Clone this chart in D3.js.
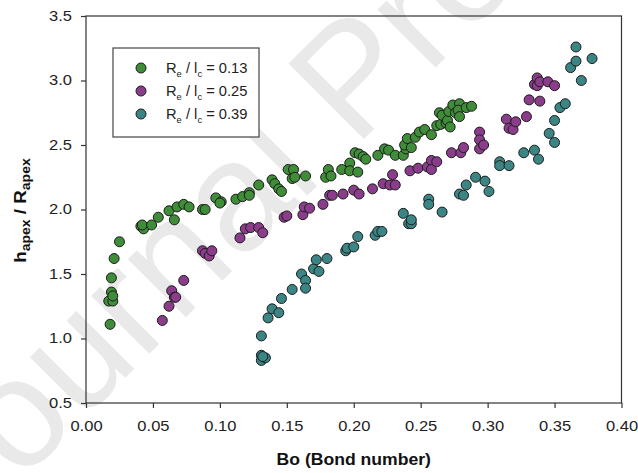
<!DOCTYPE html>
<html>
<head>
<meta charset="utf-8">
<script src="https://cdn.jsdelivr.net/npm/d3@7"></script>
<style>
  body { margin: 0; background: #fff; }
  svg { display: block; font-family: "Liberation Sans", Arial, sans-serif; }
</style>
</head>
<body>
<svg id="chart" width="638" height="473"></svg>
<script>
"use strict";

//data (Bo, h_apex / R_apex)

const ratio013 = [
  [0.018, 1.11], [0.017, 1.29], [0.020, 1.29], [0.019, 1.36], [0.020, 1.33], [0.019, 1.47],
  [0.021, 1.62], [0.025, 1.75], [0.041, 1.87], [0.043, 1.85], [0.042, 1.88], [0.049, 1.88],
  [0.054, 1.94], [0.062, 1.99], [0.066, 1.92], [0.068, 2.02], [0.073, 2.04], [0.077, 2.02],
  [0.087, 2.00], [0.089, 2.00], [0.097, 2.09], [0.101, 2.06], [0.100, 2.05], [0.112, 2.08],
  [0.117, 2.10], [0.122, 2.13], [0.122, 2.11], [0.129, 2.19], [0.139, 2.23], [0.141, 2.20],
  [0.144, 2.16], [0.146, 2.14], [0.151, 2.31], [0.155, 2.31], [0.154, 2.24], [0.156, 2.25],
  [0.164, 2.26], [0.179, 2.25], [0.181, 2.31], [0.183, 2.26], [0.191, 2.31], [0.197, 2.36],
  [0.197, 2.30], [0.203, 2.29], [0.201, 2.44], [0.204, 2.43], [0.207, 2.41], [0.209, 2.39],
  [0.218, 2.42], [0.223, 2.47], [0.226, 2.46], [0.231, 2.42], [0.237, 2.42], [0.239, 2.47],
  [0.238, 2.50], [0.240, 2.55], [0.243, 2.48], [0.246, 2.56], [0.249, 2.60], [0.253, 2.62],
  [0.258, 2.58], [0.262, 2.65], [0.265, 2.66], [0.264, 2.75], [0.266, 2.73], [0.269, 2.67],
  [0.270, 2.69], [0.272, 2.64], [0.271, 2.76], [0.274, 2.81], [0.276, 2.75], [0.279, 2.82],
  [0.278, 2.77], [0.284, 2.79], [0.279, 2.72], [0.288, 2.80]
];

const ratio025 = [
  [0.057, 1.14], [0.062, 1.25], [0.064, 1.37], [0.066, 1.32], [0.067, 1.32], [0.073, 1.45],
  [0.087, 1.68], [0.089, 1.66], [0.092, 1.64], [0.094, 1.68], [0.115, 1.78], [0.119, 1.85],
  [0.123, 1.86], [0.129, 1.86], [0.132, 1.82], [0.148, 1.94], [0.150, 1.95], [0.162, 1.96],
  [0.163, 2.02], [0.167, 2.01], [0.177, 2.04], [0.182, 2.11], [0.184, 2.11], [0.192, 2.12],
  [0.200, 2.15], [0.204, 2.12], [0.214, 2.16], [0.222, 2.20], [0.227, 2.19], [0.229, 2.27],
  [0.231, 2.19], [0.242, 2.30], [0.248, 2.32], [0.255, 2.33], [0.258, 2.38], [0.258, 2.31],
  [0.262, 2.37], [0.273, 2.44], [0.280, 2.44], [0.282, 2.48], [0.294, 2.60], [0.294, 2.54],
  [0.294, 2.47], [0.297, 2.50], [0.314, 2.70], [0.316, 2.63], [0.319, 2.62], [0.321, 2.68],
  [0.329, 2.72], [0.331, 2.85], [0.339, 2.84], [0.335, 2.97], [0.337, 3.02], [0.337, 2.96],
  [0.339, 2.99], [0.345, 2.99], [0.350, 2.96]
];

const ratio039 = [
  [0.131, 1.02], [0.131, 0.87], [0.131, 0.83], [0.134, 0.85], [0.132, 0.86], [0.136, 1.16],
  [0.139, 1.23], [0.144, 1.20], [0.146, 1.31], [0.154, 1.38], [0.161, 1.50], [0.164, 1.45],
  [0.164, 1.39], [0.170, 1.54], [0.172, 1.61], [0.174, 1.52], [0.180, 1.62], [0.194, 1.68],
  [0.195, 1.70], [0.200, 1.71], [0.203, 1.79], [0.216, 1.80], [0.218, 1.83], [0.221, 1.83],
  [0.237, 1.97], [0.241, 1.89], [0.243, 1.89], [0.243, 1.92], [0.256, 2.08], [0.256, 2.04],
  [0.266, 1.98], [0.279, 2.12], [0.282, 2.11], [0.284, 2.19], [0.291, 2.25], [0.298, 2.22],
  [0.301, 2.14], [0.309, 2.37], [0.309, 2.34], [0.316, 2.34], [0.327, 2.44], [0.335, 2.46],
  [0.338, 2.39], [0.346, 2.59], [0.350, 2.52], [0.350, 2.69], [0.354, 2.79], [0.358, 2.82],
  [0.362, 3.10], [0.366, 3.15], [0.366, 3.26], [0.370, 3.00], [0.378, 3.17]
];

const seriesNames = ["0.13", "0.25", "0.39"];
const seriesColors = ["#3f8c39", "#8b3d8c", "#3b8585"];
const xTicks = [0, 0.05, 0.10, 0.15, 0.20, 0.25, 0.30, 0.35, 0.40];
const yTicks = [0.5, 1.0, 1.5, 2.0, 2.5, 3.0, 3.5];

const series = [ratio013, ratio025, ratio039];

//layout

const m = { left: 86, top: 16, right: 621.5, bottom: 403 };
const wide = 1.18; // the reference font is drawn wider than Arial

const svg = d3.select("#chart");

//watermark

svg.append("text")
  .attr("transform", "translate(-35,538) rotate(-45)")
  .attr("font-size", 155)
  .attr("fill", "#e9e9e9")
  .text("Journal Pre-proof");

//scales

const x = d3.scaleLinear().domain([0, 0.4]).range([m.left, m.right]);
const y = d3.scaleLinear().domain([0.5, 3.5]).range([m.bottom, m.top]);

//axes

const xAxis = svg.append("g")
  .attr("transform", `translate(0,${m.bottom})`)
  .call(d3.axisBottom(x).tickValues(xTicks).tickFormat(d3.format(".2f")).tickSize(5).tickPadding(13));

const yAxis = svg.append("g")
  .attr("transform", `translate(${m.left},0)`)
  .call(d3.axisLeft(y).tickValues(yTicks).tickFormat(d3.format(".1f")).tickSize(5).tickPadding(9));

[xAxis, yAxis].forEach((g) => {
  g.select(".domain").remove();
  g.selectAll("line").attr("stroke", "#333").attr("stroke-width", 1.2);
  g.selectAll("text")
    .attr("font-size", 14)
    .attr("fill", "#222")
    .attr("font-family", "'Liberation Sans', Arial, sans-serif")
    .attr("transform", `scale(${wide},1)`);
});

yAxis.selectAll("text").attr("x", -14 / wide);

//frame

svg.append("rect")
  .attr("x", m.left)
  .attr("y", m.top)
  .attr("width", m.right - m.left)
  .attr("height", m.bottom - m.top)
  .attr("fill", "none")
  .attr("stroke", "#333")
  .attr("stroke-width", 1.2);

//points

series.forEach((s, i) => {
  svg.append("g")
    .selectAll("circle")
    .data(s)
    .enter()
    .append("circle")
    .attr("cx", (d) => x(d[0]))
    .attr("cy", (d) => y(d[1]))
    .attr("r", 5)
    .attr("fill", seriesColors[i])
    .attr("stroke", "#1c1c1c")
    .attr("stroke-width", 1);
});

//legend

const legend = svg.append("g");

legend.append("rect")
  .attr("x", 113)
  .attr("y", 48)
  .attr("width", 146)
  .attr("height", 89)
  .attr("fill", "#fff")
  .attr("stroke", "#444")
  .attr("stroke-width", 1.2);

seriesNames.forEach((name, i) => {
  const ly = 68 + i * 23;
  legend.append("circle")
    .attr("cx", 141)
    .attr("cy", ly)
    .attr("r", 5)
    .attr("fill", seriesColors[i])
    .attr("stroke", "#1c1c1c")
    .attr("stroke-width", 1);
  const t = legend.append("text")
    .attr("transform", `translate(166,${ly + 5}) scale(1.05,1)`)
    .attr("font-size", 14)
    .attr("fill", "#222");
  t.append("tspan").text("R");
  t.append("tspan").attr("font-size", 9).attr("dy", 4).text("e");
  t.append("tspan").attr("dy", -4).text(" / l");
  t.append("tspan").attr("font-size", 9).attr("dy", 4).text("c");
  t.append("tspan").attr("dy", -4).text(` = ${name}`);
});

//titles

svg.append("text")
  .attr("transform", `translate(${(m.left + m.right) / 2},465) scale(1.1,1)`)
  .attr("text-anchor", "middle")
  .attr("font-size", 16)
  .attr("font-weight", "bold")
  .attr("fill", "#111")
  .text("Bo (Bond number)");

const yTitle = svg.append("text")
  .attr("transform", `translate(26,210.5) rotate(-90) scale(1.17,1)`)
  .attr("text-anchor", "middle")
  .attr("font-size", 16)
  .attr("font-weight", "bold")
  .attr("fill", "#111");

yTitle.append("tspan").text("h");
yTitle.append("tspan").attr("font-size", 12).attr("dy", 4).text("apex");
yTitle.append("tspan").attr("dy", -4).text(" / R");
yTitle.append("tspan").attr("font-size", 12).attr("dy", 4).text("apex");
</script>
</body>
</html>
